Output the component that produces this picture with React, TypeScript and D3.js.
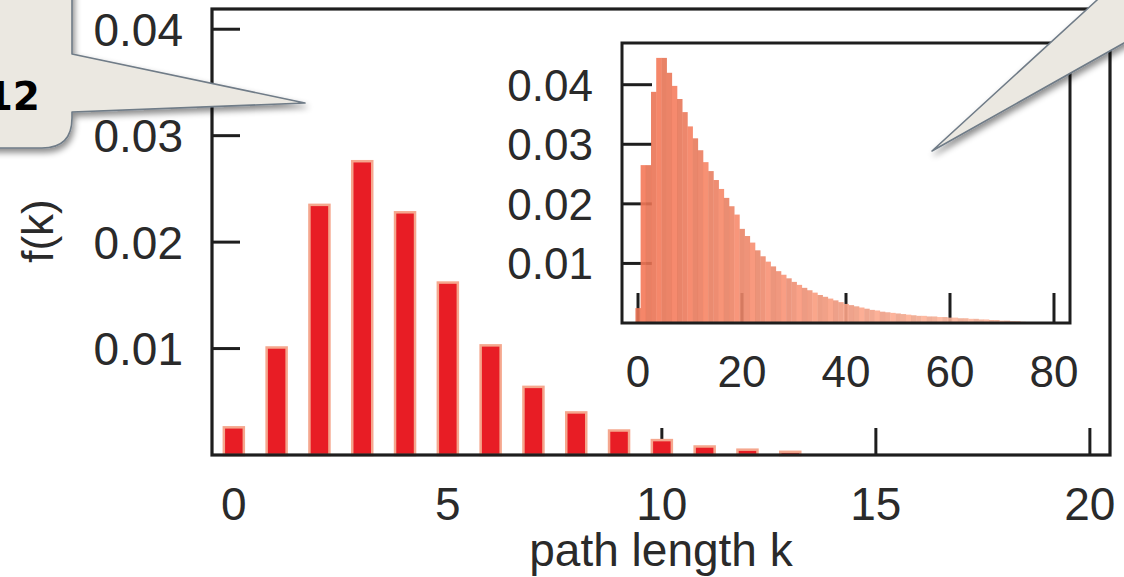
import React from "react";
import * as d3 from "d3";

// ---- Data ----
const mainK = [0, 1, 2, 3, 4, 5, 6, 7, 8, 9, 10, 11, 12, 13];
const mainF = [0.0026, 0.0101, 0.0235, 0.0276, 0.0228, 0.0162, 0.0103, 0.0064, 0.004, 0.0023, 0.0014, 0.0008, 0.0005, 0.0003];
const mainXTicks = [0, 5, 10, 15, 20];
const mainYTicks = [0.01, 0.02, 0.03, 0.04];

const insetF = [
  0.0025, 0.0265, 0.0265, 0.0388, 0.0445, 0.0445, 0.042, 0.0398, 0.0376, 0.0354,
  0.033, 0.031, 0.029, 0.027, 0.0255, 0.024, 0.0225, 0.021, 0.0196, 0.0182,
  0.0158, 0.0146, 0.0135, 0.0122, 0.0112, 0.0103, 0.0095, 0.0087, 0.0081, 0.0075,
  0.0069, 0.0064, 0.0059, 0.0055, 0.0051, 0.0047, 0.0044, 0.0041, 0.0038, 0.0035,
  0.0032, 0.003, 0.0028, 0.0026, 0.0024, 0.0022, 0.0021, 0.0019, 0.0018, 0.0017,
  0.0016, 0.0015, 0.0014, 0.0013, 0.0012, 0.0012, 0.0011, 0.0011, 0.001, 0.001,
  0.0009, 0.0009, 0.0008, 0.0008, 0.0007, 0.0007, 0.0006, 0.0006, 0.0005, 0.0005,
  0.0004, 0.0004, 0.0003, 0.0003, 0.0002
];
const insetK = insetF.map((_, i) => i);
const insetXTicks = [0, 20, 40, 60, 80];
const insetYTicks = [0.01, 0.02, 0.03, 0.04];

const xLabel = "path length k";
const yLabel = "f(k)";
const calloutText = "12";

// ---- Layout ----
const W = 1124;
const H = 577;
const FONT = "'Liberation Sans', Arial, Helvetica, sans-serif";
const TEXT = "#2a2a2a";
const AXIS = "#1e1e1e";

const main = { left: 212, right: 1110, top: 9, bottom: 455 };
const inset = { left: 622, right: 1070, top: 43, bottom: 323 };

export default function App() {
  const x = d3.scaleLinear().domain([-0.51, 20.47]).range([main.left, main.right]);
  const y = d3.scaleLinear().domain([0, 0.0419]).range([main.bottom, main.top]);
  const xi = d3.scaleLinear().domain([-3.08, 83.08]).range([inset.left, inset.right]);
  const yi = d3.scaleLinear().domain([0, 0.047]).range([inset.bottom, inset.top]);

  const barW = 20;
  const insetColor = (k: number) => {
    const t = Math.min(1, Math.max(0, (k - 3) / 55));
    const base = d3.interpolateRgb("#ea7455", "#f3ae95")(t);
    const c = d3.color(base)!;
    return k % 3 === 1 ? c.brighter(0.12).formatHex() : k % 3 === 2 ? c.darker(0.05).formatHex() : c.formatHex();
  };

  return (
    <svg
      width={W}
      height={H}
      viewBox={`0 0 ${W} ${H}`}
      style={{ position: "absolute", left: 0, top: 0, background: "#fff" }}
      fontFamily={FONT}
    >
      <defs>
        <filter id="shadow" x="-20%" y="-20%" width="140%" height="160%">
          <feDropShadow dx="2" dy="4" stdDeviation="3" floodColor="#000" floodOpacity="0.45" />
        </filter>
      </defs>
      <rect x={0} y={0} width={W} height={H} fill="#fff" />

      {/* ---- main chart ---- */}
      {mainXTicks.map((t) => (
        <line key={"mxt" + t} x1={x(t)} x2={x(t)} y1={main.bottom} y2={main.bottom - 27} stroke={AXIS} strokeWidth={3} />
      ))}
      {mainYTicks.map((t) => (
        <line key={"myt" + t} x1={main.left} x2={main.left + 28} y1={y(t)} y2={y(t)} stroke={AXIS} strokeWidth={3} />
      ))}
      {mainK.map((k, i) => (
        <rect
          key={"mb" + k}
          x={x(k) - barW / 2}
          y={y(mainF[i])}
          width={barW}
          height={main.bottom - y(mainF[i])}
          fill="#e81d25"
          stroke="#f5a78e"
          strokeWidth={2.5}
        />
      ))}
      <rect
        x={main.left}
        y={main.top}
        width={main.right - main.left}
        height={main.bottom - main.top}
        fill="none"
        stroke={AXIS}
        strokeWidth={3.2}
      />
      {mainXTicks.map((t) => (
        <text key={"mxl" + t} x={x(t)} y={520} textAnchor="middle" fontSize={46} fill={TEXT}>
          {t}
        </text>
      ))}
      {mainYTicks.map((t) => (
        <text key={"myl" + t} x={183} y={y(t)} dy="0.36em" textAnchor="end" fontSize={46} fill={TEXT}>
          {d3.format(".2f")(t)}
        </text>
      ))}
      <text x={(main.left + main.right) / 2} y={566} textAnchor="middle" fontSize={46} fill={TEXT}>
        {xLabel}
      </text>
      <text transform="translate(53,231) rotate(-90)" textAnchor="middle" fontSize={44} fill={TEXT}>
        {yLabel}
      </text>

      {/* ---- inset ---- */}
      {insetXTicks.map((t) => (
        <line key={"ixt" + t} x1={xi(t)} x2={xi(t)} y1={inset.bottom} y2={inset.bottom - 30} stroke={AXIS} strokeWidth={3} />
      ))}
      {insetYTicks.map((t) => (
        <line key={"iyt" + t} x1={inset.left} x2={inset.left + 30} y1={yi(t)} y2={yi(t)} stroke={AXIS} strokeWidth={3} />
      ))}
      {insetK.map((k, i) => (
        <rect
          key={"ib" + k}
          x={xi(k - 0.5)}
          y={yi(insetF[i])}
          width={xi(k + 0.5) - xi(k - 0.5) + 0.3}
          height={inset.bottom - yi(insetF[i])}
          fill={insetColor(k)}
          fillOpacity={0.9}
        />
      ))}
      <rect
        x={inset.left}
        y={inset.top}
        width={inset.right - inset.left}
        height={inset.bottom - inset.top}
        fill="none"
        stroke={AXIS}
        strokeWidth={3}
      />
      {insetXTicks.map((t) => (
        <text key={"ixl" + t} x={xi(t)} y={387} textAnchor="middle" fontSize={44} fill={TEXT}>
          {t}
        </text>
      ))}
      {insetYTicks.map((t) => (
        <text key={"iyl" + t} x={593} y={yi(t)} dy="0.36em" textAnchor="end" fontSize={44} fill={TEXT}>
          {d3.format(".2f")(t)}
        </text>
      ))}

      {/* ---- callouts ---- */}
      <g filter="url(#shadow)">
        <path
          d="M -20,-20 L 72,-20 L 72,54 L 305,103 L 72,112 L 72,118 Q 72,148 42,148 L -20,148 Z"
          fill="#ebe8e1"
          stroke="#6f7b87"
          strokeWidth={1.6}
          strokeLinejoin="round"
        />
      </g>
      <text
        x={40}
        y={110}
        textAnchor="end"
        fontSize={39}
        fontWeight={700}
        fontFamily="'DejaVu Sans', sans-serif"
        fill="#000"
      >
        {calloutText}
      </text>
      <g filter="url(#shadow)">
        <path
          d="M 1108,-10 L 932,151 L 1124,43 L 1150,28 L 1150,-10 Z"
          fill="#ebe8e1"
          stroke="#6f7b87"
          strokeWidth={1.6}
          strokeLinejoin="round"
        />
      </g>
    </svg>
  );
}
